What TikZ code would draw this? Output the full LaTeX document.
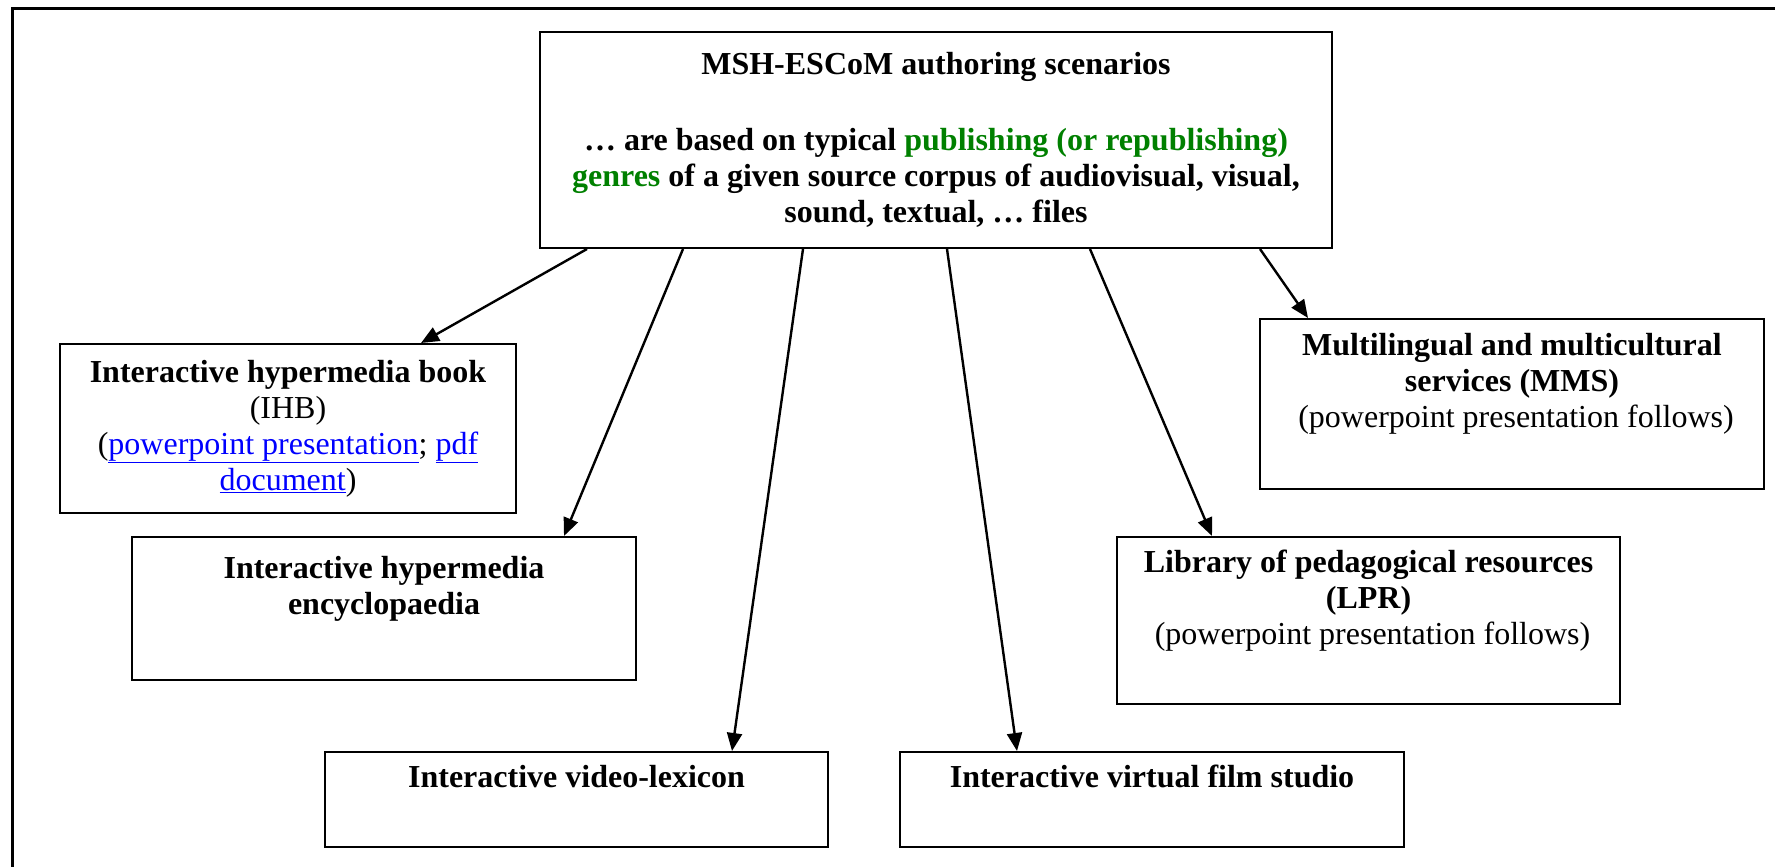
\documentclass[tikz,border=0pt]{standalone}
\usepackage{fontspec}
\setmainfont{Liberation Serif}
\usetikzlibrary{arrows.meta}
\definecolor{lnkblue}{RGB}{0,0,255}
\definecolor{gengreen}{RGB}{0,128,0}
\newcommand{\lnk}[1]{{\color{lnkblue}\underline{#1}}}
\begin{document}
\begin{tikzpicture}[x=1pt,y=-1pt,
  box/.style={draw, line width=2pt, rectangle, inner sep=0pt, align=center,
    font=\fontsize{32}{36}\selectfont},
  arr/.style={line width=2.4pt, -{Triangle[length=18pt,width=15pt]}}]
\useasboundingbox (0,0) rectangle (1775,867);
\draw[line width=3pt] (12,867) -- (12,9) -- (1775,9);
\node[box, minimum width=792pt, minimum height=216pt] (top) at (936,140)
  {\textbf{MSH-ESCoM authoring scenarios}\\[40pt]
   \textbf{… are based on typical {\color{gengreen}publishing (or republishing)}}\\
   \textbf{{\color{gengreen}genres} of a given source corpus of audiovisual, visual,}\\
   \textbf{sound, textual, … files}};
\node[box, minimum width=456pt, minimum height=169pt] (ihb) at (288,428.5)
  {\textbf{Interactive hypermedia book}\\ (IHB)\\
   (\lnk{powerpoint presentation}; \lnk{pdf}\\ \lnk{document})};
\node[box, minimum width=504pt, minimum height=143pt] (enc) at (384,608.5)
  {\textbf{Interactive hypermedia}\\ \textbf{encyclopaedia}\\ \strut};
\node[box, minimum width=504pt, minimum height=170pt] (mms) at (1512,404)
  {\textbf{Multilingual and multicultural}\\ \textbf{services (MMS)}\\
   \ (powerpoint presentation follows)\\ \strut};
\node[box, minimum width=503pt, minimum height=167pt] (lpr) at (1368.5,620.5)
  {\textbf{Library of pedagogical resources}\\ \textbf{(LPR)}\\
   \ (powerpoint presentation follows)\\ \strut};
\node[box, minimum width=503pt, minimum height=95pt] (vid) at (576.5,799.5)
  {\textbf{Interactive video-lexicon}\\ \strut};
\node[box, minimum width=504pt, minimum height=95pt] (film) at (1152,799.5)
  {\textbf{Interactive virtual film studio}\\ \strut};
\draw[arr] ([xshift=48pt]top.south west) -- ([xshift=362pt]ihb.north west);
\draw[arr] ([xshift=144pt]top.south west) -- ([xshift=433pt]enc.north west);
\draw[arr] ([xshift=264pt]top.south west) -- ([xshift=408pt]vid.north west);
\draw[arr] ([xshift=408pt]top.south west) -- ([xshift=118pt]film.north west);
\draw[arr] ([xshift=551pt]top.south west) -- ([xshift=96pt]lpr.north west);
\draw[arr] ([xshift=721pt]top.south west) -- ([xshift=49pt]mms.north west);
\end{tikzpicture}
\end{document}
